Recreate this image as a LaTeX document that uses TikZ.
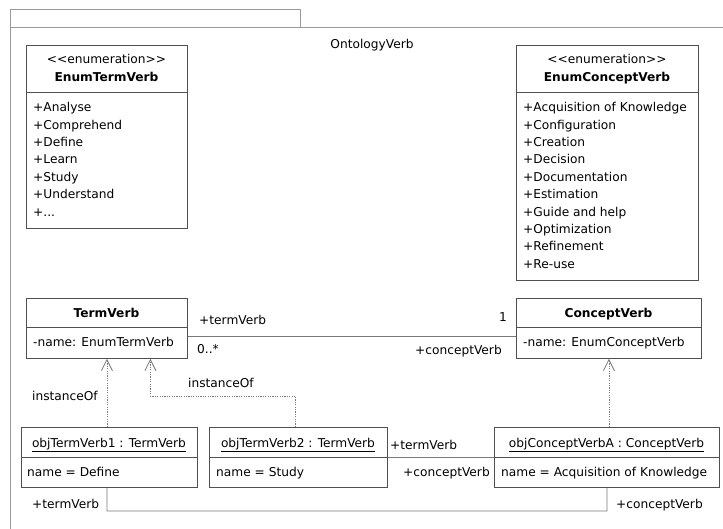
\documentclass[tikz,border=0pt]{standalone}
\usepackage{fontspec}
\setmainfont{DejaVu Sans}
\usetikzlibrary{arrows.meta}
\definecolor{boxc}{HTML}{505050}
\definecolor{linec}{HTML}{7A7A7A}
\definecolor{framec}{HTML}{9A9A9A}
\begin{document}
\begin{tikzpicture}[x=1pt,y=-1pt,
  font=\fontsize{12.2}{14}\selectfont,
  umlbox/.style={draw=boxc, line width=0.8pt, fill=white, inner sep=0pt, anchor=north west},
  txt/.style={inner sep=0pt, anchor=base west},
  ctxt/.style={inner sep=0pt, anchor=base},
  assoc/.style={draw=linec, line width=0.8pt},
  inst/.style={draw=linec, line width=0.8pt, dash pattern=on 1.2pt off 1.2pt, -{Straight Barb[length=11pt,width=11pt,line width=0.8pt]}},
  divider/.style={draw=boxc, line width=0.8pt}]
\useasboundingbox (0,0) rectangle (723,529);
\fill[white] (0,0) rectangle (723,529);

% package frame
\draw[framec, line width=1pt] (10,28) rectangle (300,10);
\draw[framec, line width=1pt] (10,529) -- (10,28) -- (723,28);
\node[ctxt] (pkg) at (372,49) {OntologyVerb};

% EnumTermVerb
\node[umlbox, minimum width=161pt, minimum height=183pt] (enumT) at (26,45) {};
\draw[divider] (26,92) -- (187,92);
\node[ctxt] (enumTst) at (106.5,64) {<{}<enumeration>{}>};
\node[ctxt, font=\fontsize{12.2}{14}\selectfont\bfseries] (enumTn) at (106.5,82) {EnumTermVerb};
\foreach \t [count=\i from 0] in {+Analyse,+Comprehend,+Define,+Learn,+Study,+Understand,{+.{}..}}
  \node[txt] (et\i) at (33,{111.7+17.4*\i}) {\t};

% EnumConceptVerb
\node[umlbox, minimum width=182pt, minimum height=235pt] (enumC) at (516,45) {};
\draw[divider] (516,92) -- (698,92);
\node[ctxt] (enumCst) at (607,64) {<{}<enumeration>{}>};
\node[ctxt, font=\fontsize{12.2}{14}\selectfont\bfseries] (enumCn) at (607,82) {EnumConceptVerb};
\foreach \t [count=\i from 0] in {+Acquisition of Knowledge,+Configuration,+Creation,+Decision,+Documentation,+Estimation,+Guide and help,+Optimization,+Refinement,+Re-use}
  \node[txt] (ec\i) at (523,{111.7+17.4*\i}) {\t};

% TermVerb
\node[umlbox, minimum width=161pt, minimum height=60pt] (tv) at (26,298) {};
\draw[divider] (26,327) -- (187,327);
\node[ctxt, font=\fontsize{12.2}{14}\selectfont\bfseries] (tvn) at (106.5,318) {TermVerb};
\node[txt] (tva) at (33,347) {-name: EnumTermVerb};

% ConceptVerb
\node[umlbox, minimum width=185pt, minimum height=60pt] (cv) at (516,298) {};
\draw[divider] (516,327) -- (701,327);
\node[ctxt, font=\fontsize{12.2}{14}\selectfont\bfseries] (cvn) at (608.5,318) {ConceptVerb};
\node[txt] (cva) at (523,347) {-name: EnumConceptVerb};

% objTermVerb1
\node[umlbox, minimum width=176pt, minimum height=60pt] (o1) at (21,427) {};
\draw[divider] (21,457) -- (197,457);
\node[ctxt] (o1n) at (109,447) {\underline{objTermVerb1 : TermVerb}};
\node[txt] (o1a) at (27,476) {name = Define};

% objTermVerb2
\node[umlbox, minimum width=178pt, minimum height=60pt] (o2) at (209,427) {};
\draw[divider] (209,457) -- (387,457);
\node[ctxt] (o2n) at (298,447) {\underline{objTermVerb2 : TermVerb}};
\node[txt] (o2a) at (216,476) {name = Study};

% objConceptVerbA
\node[umlbox, minimum width=225pt, minimum height=60pt] (oa) at (494,427) {};
\draw[divider] (494,457) -- (719,457);
\node[ctxt] (oan) at (606.5,447) {\underline{objConceptVerbA : ConceptVerb}};
\node[txt] (oaa) at (501,476) {name = Acquisition of Knowledge};

% association TermVerb -- ConceptVerb
\draw[assoc] ([yshift=-8pt]tv.east) -- ([yshift=-8pt]cv.west);
\node[txt] (l1) at (199,325) {+termVerb};
\node[txt] (l2) at (197,353) {0..*};
\node[txt] (l3) at (499,322) {1};
\node[txt] (l4) at (415,355) {+conceptVerb};

% link objTermVerb2 -- objConceptVerbA
\draw[assoc] (o2.east) -- (oa.west);
\node[txt] (l5) at (390,449) {+termVerb};
\node[txt] (l6) at (403,476) {+conceptVerb};

% link objTermVerb1 -- objConceptVerbA
\coordinate (bl) at (107,511);
\draw[assoc] (tv.south |- o1.south) -- (bl) -| (oa.south);
\node[txt] (l7) at (32,508) {+termVerb};
\node[txt] (l8) at (616,508) {+conceptVerb};

% instanceOf dependencies
\draw[inst] (tv.south |- o1.north) -- (tv.south);
\node[txt] (i1) at (32,400) {instanceOf};
\coordinate (tvb2) at ([xshift=43.5pt]tv.south);
\draw[inst] ([xshift=-3pt]o2.north) |- (tvb2 |- 0,396) -- (tvb2);
\node[txt] (i2) at (188,387) {instanceOf};
\draw[inst] (cv.south |- oa.north) -- (cv.south);
\end{tikzpicture}
\end{document}
